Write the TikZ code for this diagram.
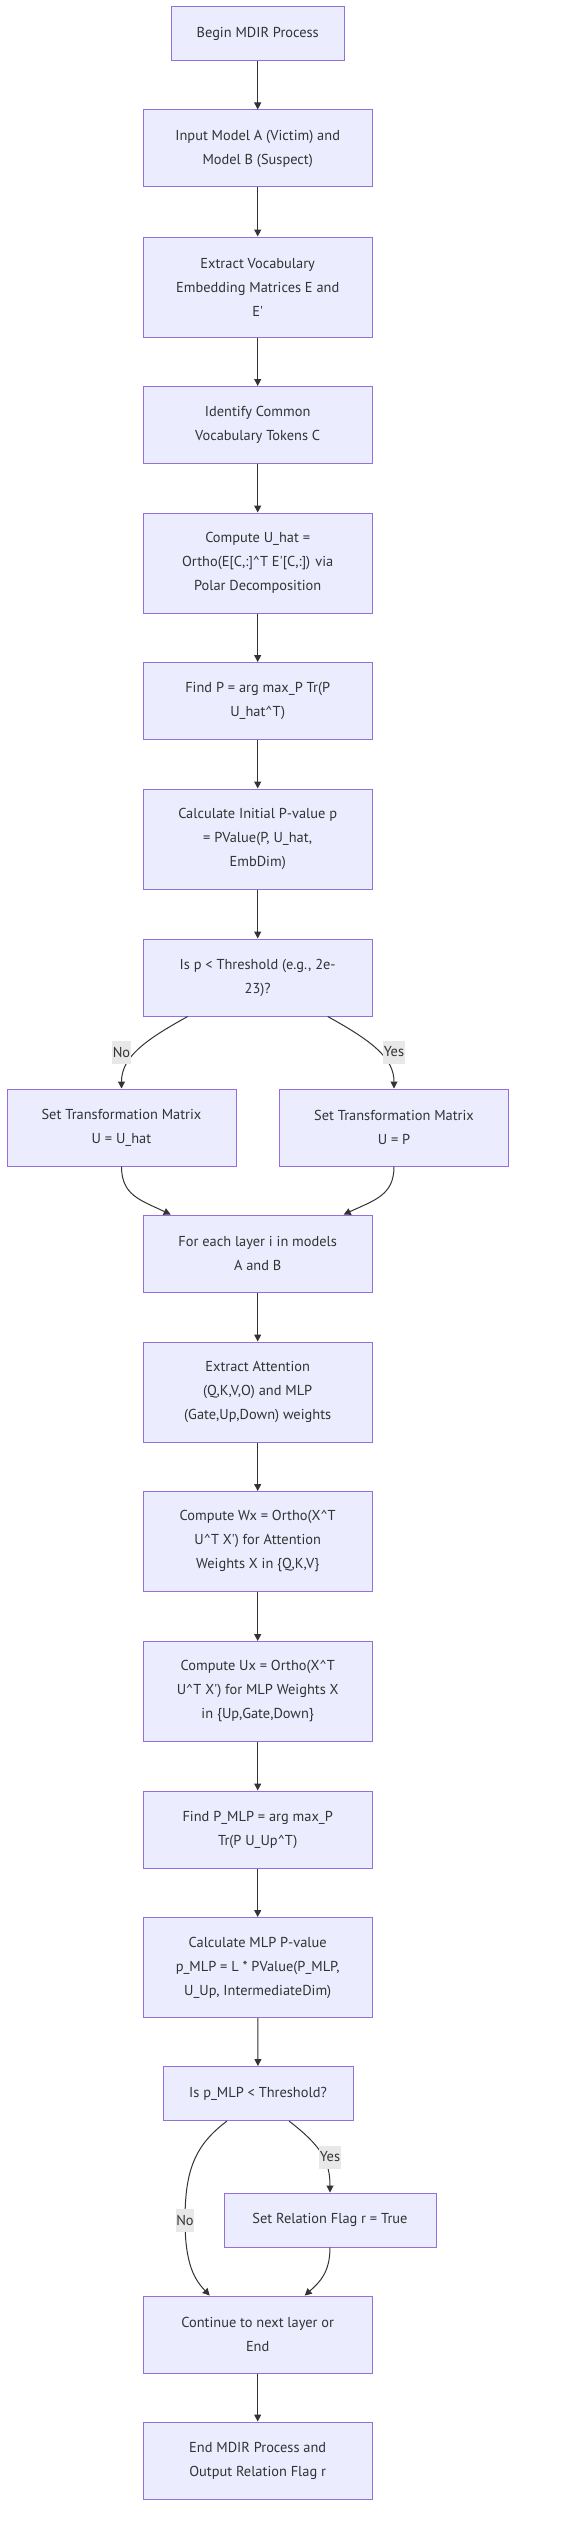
\documentclass[tikz,border=0pt]{standalone}
\usepackage{fontspec}
\setmainfont{PT Sans}
\usetikzlibrary{arrows.meta,calc}
\definecolor{boxFill}{HTML}{ECECFF}
\definecolor{boxLine}{HTML}{9370DB}
\definecolor{edgeColor}{HTML}{333333}
\definecolor{lblFill}{HTML}{E8E8E8}
\newcommand{\hatT}{\textasciicircum{}}
\newcommand{\qs}{\textquotesingle{}}

\begin{document}
\begin{tikzpicture}[
    x=1pt, y=-1pt,
    procbox/.style={draw=boxLine, fill=boxFill, line width=1pt, minimum width=229pt, minimum height=77pt,
      align=center, inner sep=0pt, text=edgeColor, font=\fontsize{14.4}{24}\selectfont},
    tallbox/.style={procbox, minimum height=100pt},
    flatbox/.style={procbox, minimum height=54pt},
    flow/.style={draw=edgeColor, line width=1pt, -{Triangle[length=7pt,width=7pt]}},
    lbl/.style={fill=lblFill, inner xsep=0.5pt, inner ysep=0pt, minimum height=23pt, text=edgeColor,
      font=\fontsize{14.4}{20}\selectfont}
  ]
  \useasboundingbox (0,0) rectangle (586,2542);
  \fill[white] (0,0) rectangle (586,2542);

  % main column
  \node[flatbox, minimum width=173pt] (begin) at (257.7,34) {Begin MDIR Process};
  \node[procbox] (input) at (257.7,148.5) {Input Model A (Victim) and\\Model B (Suspect)};
  \node[tallbox] (vocab) at (257.7,287) {Extract Vocabulary\\Embedding Matrices E and\\E\qs};
  \node[procbox] (common) at (257.7,425) {Identify Common\\Vocabulary Tokens C};
  \node[tallbox] (uhat) at (257.7,563) {Compute U\_hat =\\Ortho(E[C,:]\hatT T E\qs[C,:]) via\\Polar Decomposition};
  \node[procbox] (findp) at (257.7,701) {Find P = arg max\_P Tr(P\\U\_hat\hatT T)};
  \node[tallbox] (pval) at (257.7,839) {Calculate Initial P-value p\\= PValue(P, U\_hat,\\EmbDim)};
  \node[procbox] (isp) at (257.7,977.5) {Is p < Threshold (e.g., 2e-\\23)?};

  % branches
  \node[procbox] (setuhat) at (121.5,1127.5) {Set Transformation Matrix\\U = U\_hat};
  \node[procbox] (setp) at (394,1127.5) {Set Transformation Matrix\\U = P};

  \node[procbox] (layer) at (257.7,1253.5) {For each layer i in models\\A and B};
  \node[tallbox] (attn) at (257.7,1392) {Extract Attention\\(Q,K,V,O) and MLP\\(Gate,Up,Down) weights};
  \node[tallbox] (wx) at (257.7,1541.5) {Compute Wx = Ortho(X\hatT T\\U\hatT T X\qs) for Attention\\Weights X in \{Q,K,V\}};
  \node[tallbox] (ux) at (257.7,1691.5) {Compute Ux = Ortho(X\hatT T\\U\hatT T X\qs) for MLP Weights X\\in \{Up,Gate,Down\}};
  \node[procbox] (pmlp) at (257.7,1829.5) {Find P\_MLP = arg max\_P\\Tr(P U\_Up\hatT T)};
  \node[tallbox] (calcmlp) at (257.7,1967.5) {Calculate MLP P-value\\p\_MLP = L * PValue(P\_MLP,\\U\_Up, IntermediateDim)};
  \node[flatbox, minimum width=190pt] (ispmlp) at (258,2093.5) {Is p\_MLP < Threshold?};
  \node[flatbox, minimum width=212pt] (setrel) at (330,2220) {Set Relation Flag r = True};
  \node[procbox] (cont) at (257.7,2334.5) {Continue to next layer or\\End};
  \node[procbox] (finish) at (257.7,2460.5) {End MDIR Process and\\Output Relation Flag r};

  % straight connectors
  \draw[flow] (begin) -- (input);
  \draw[flow] (input) -- (vocab);
  \draw[flow] (vocab) -- (common);
  \draw[flow] (common) -- (uhat);
  \draw[flow] (uhat) -- (findp);
  \draw[flow] (findp) -- (pval);
  \draw[flow] (pval) -- (isp);
  \draw[flow] (layer) -- (attn);
  \draw[flow] (attn) -- (wx);
  \draw[flow] (wx) -- (ux);
  \draw[flow] (ux) -- (pmlp);
  \draw[flow] (pmlp) -- (calcmlp);
  \draw[flow] (calcmlp) -- (ispmlp);
  \draw[flow] (cont) -- (finish);

  % curved connectors
  \draw[flow] ([xshift=-70pt]isp.south) .. controls (143,1041) and (121.5,1058) .. (setuhat.north);
  \draw[flow] ([xshift=70pt]isp.south) .. controls (372,1041) and (394,1058) .. (setp.north);
  \draw[flow] (setuhat.south) .. controls (121.5,1195) and (140,1200) .. ([xshift=-87pt]layer.north);
  \draw[flow] (setp.south) .. controls (394,1195) and (375,1200) .. ([xshift=86pt]layer.north);
  \draw[flow] ([xshift=-31pt]ispmlp.south) .. controls (195,2145) and (185,2170) .. (185,2220)
    .. controls (185,2265) and (195,2280) .. ([xshift=-48pt]cont.north);
  \draw[flow] ([xshift=31pt]ispmlp.south) .. controls (320,2145) and (330,2160) .. (setrel.north);
  \draw[flow] (setrel.south) .. controls (330,2272) and (320,2282) .. ([xshift=47pt]cont.north);

  % edge labels
  \node[lbl] (noA) at (121.5,1052) {No};
  \node[lbl] (yesA) at (394,1052) {Yes};
  \node[lbl] (yesB) at (330,2157) {Yes};
  \node[lbl] (noB) at (185,2220) {No};
\end{tikzpicture}
\end{document}
